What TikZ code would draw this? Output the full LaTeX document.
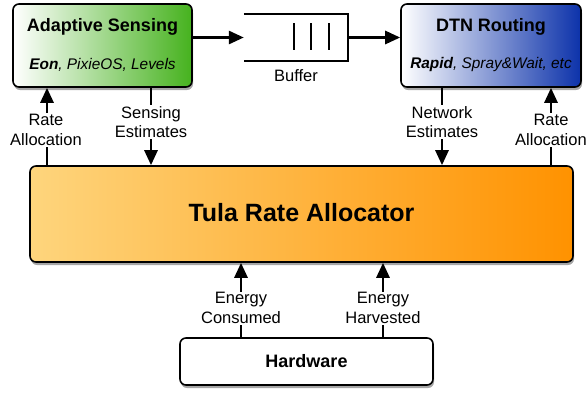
\documentclass[tikz,border=0pt]{standalone}
\usepackage{fontspec}
\setmainfont{Liberation Sans}
\usetikzlibrary{arrows.meta,shadows}
\definecolor{sgreen}{RGB}{70,178,30}
\definecolor{dblue}{RGB}{12,50,170}
\definecolor{tlight}{RGB}{254,213,125}
\definecolor{tdark}{RGB}{255,146,0}
\tikzset{
  box/.style={draw=black, line width=1.6pt, rounded corners=6pt,
    drop shadow={shadow xshift=1pt, shadow yshift=-3pt, opacity=0.35, fill=black}},
  arr/.style={line width=2.8pt, -{Triangle[length=15pt,width=13pt]}},
  lbl/.style={fill=white, inner sep=1pt, align=center, font=\fontsize{16.5}{19.5}\selectfont},
  ttl/.style={font=\fontsize{18}{21}\selectfont\bfseries},
  sub/.style={font=\fontsize{15.4}{18}\selectfont\itshape},
}
\begin{document}
\begin{tikzpicture}[x=1pt,y=-1pt]
\useasboundingbox (0,0) rectangle (587,392);
% boxes
\node[box, left color=white, right color=sgreen, minimum width=179pt, minimum height=83pt] (sense) at (102.5,45.5) {};
\node[box, left color=white, right color=dblue, minimum width=180pt, minimum height=83pt] (dtn) at (491,45.5) {};
\node[box, left color=tlight, right color=tdark, minimum width=543pt, minimum height=96pt] (tula) at (301.5,214) {};
\node[box, fill=white, minimum width=253pt, minimum height=47pt] (hw) at (306.5,361.5) {};
% texts in boxes
\node[ttl] (senset) at (102.5,27) {Adaptive Sensing};
\node[sub] (senses) at (102.5,65) {\textbf{Eon}, PixieOS, Levels};
\node[ttl] (dtnt) at (491,27) {DTN Routing};
\node[sub] (dtns) at (491,65) {\textbf{Rapid}, Spray\&Wait, etc};
\node[font=\fontsize{25}{30}\selectfont\bfseries] (tulat) at (301.5,213) {Tula Rate Allocator};
\node[ttl] (hwt) at (306.5,361.5) {Hardware};
% buffer
\node[minimum width=104pt, minimum height=47pt, inner sep=0pt] (buf) at (296,37.5) {};
\draw[line width=2.4pt] (buf.north west) -- (buf.north east) -- (buf.south east) -- (buf.south west);
\foreach \bx in {294,311,329} \draw[line width=2.4pt] (\bx,23) -- (\bx,50);
\node[lbl] (bufl) at (296,76) {Buffer};
\draw[arr] (sense.east |- buf.west) -- (buf.west);
\draw[arr] (buf.east) -- (dtn.west |- buf.east);
% vertical connectors
\coordinate (c1) at (47,0);
\coordinate (c2) at (151,0);
\coordinate (c3) at (442,0);
\coordinate (c4) at (551,0);
\coordinate (c5) at (241,0);
\coordinate (c6) at (383,0);
\draw[arr] (tula.north -| c1) -- (sense.south -| c1);
\draw[arr] (sense.south -| c2) -- (tula.north -| c2);
\draw[arr] (dtn.south -| c3) -- (tula.north -| c3);
\draw[arr] (tula.north -| c4) -- (dtn.south -| c4);
\draw[arr] (hw.north -| c5) -- (tula.south -| c5);
\draw[arr] (hw.north -| c6) -- (tula.south -| c6);
% labels
\node[lbl] (l1) at (46,130) {Rate\\Allocation};
\node[lbl] (l2) at (151,122) {Sensing\\Estimates};
\node[lbl] (l3) at (442,122) {Network\\Estimates};
\node[lbl] (l4) at (551,130) {Rate\\Allocation};
\node[lbl] (l5) at (241,308) {Energy\\Consumed};
\node[lbl] (l6) at (383,308) {Energy\\Harvested};
\end{tikzpicture}
\end{document}
